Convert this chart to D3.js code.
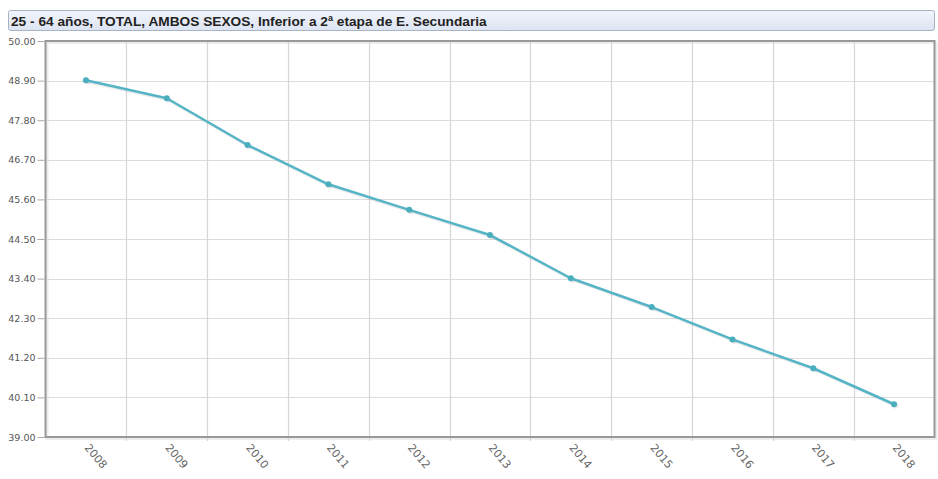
<!DOCTYPE html>
<html>
<head>
<meta charset="utf-8">
<script src="https://cdn.jsdelivr.net/npm/d3@7"></script>
<style>
  html, body { margin: 0; padding: 0; background: #fff; }
  svg { display: block; }
</style>
</head>
<body>
<svg id="chart" width="938" height="479"></svg>
<script>
const title = "25 - 64 años, TOTAL, AMBOS SEXOS, Inferior a 2ª etapa de E. Secundaria";
const years = ["2008","2009","2010","2011","2012","2013","2014","2015","2016","2017","2018"];
const values = [48.91, 48.41, 47.11, 46.02, 45.31, 44.61, 43.41, 42.61, 41.71, 40.91, 39.91];
const yTicks = [39.00, 40.10, 41.20, 42.30, 43.40, 44.50, 45.60, 46.70, 47.80, 48.90, 50.00];

const svg = d3.select("#chart");
const W = 938, H = 479;
const m = { left: 45.5, right: 3.5, top: 41, bottom: 42 };
const pw = W - m.left - m.right, ph = H - m.top - m.bottom;

const defs = svg.append("defs");
const grad = defs.append("linearGradient").attr("id", "tg").attr("x1", 0).attr("x2", 0).attr("y1", 0).attr("y2", 1);
grad.append("stop").attr("offset", "0%").attr("stop-color", "#f1f4fb");
grad.append("stop").attr("offset", "100%").attr("stop-color", "#dde4f2");

// Title bar
svg.append("rect").attr("x", 8.5).attr("y", 10.5).attr("width", 926).attr("height", 20)
  .attr("rx", 2).attr("fill", "url(#tg)").attr("stroke", "#a9b3c6");
svg.append("text").attr("x", 11).attr("y", 25.5)
  .attr("font-family", "Liberation Sans, Arial, sans-serif").attr("font-size", 13.7)
  .attr("font-weight", "bold").attr("fill", "#222").text(title);

const x = d3.scaleBand().domain(years).range([m.left, m.left + pw]).padding(0);
const y = d3.scaleLinear().domain([39, 50]).range([m.top + ph, m.top]);

const g = svg.append("g");

// plot frame shadow
g.append("rect").attr("x", m.left + 1.5).attr("y", m.top + 1.5).attr("width", pw).attr("height", ph)
  .attr("fill", "none").attr("stroke", "#000").attr("stroke-opacity", 0.07).attr("stroke-width", 3);

// horizontal gridlines
g.append("g").selectAll("line").data(yTicks).join("line")
  .attr("x1", m.left).attr("x2", m.left + pw)
  .attr("y1", d => Math.round(y(d)) + 0.5).attr("y2", d => Math.round(y(d)) + 0.5)
  .attr("stroke", "#dcdcdc").attr("stroke-width", 1);

// vertical gridlines at band boundaries
const bounds = years.slice(1).map(d => x(d));
g.append("g").selectAll("line").data(bounds).join("line")
  .attr("x1", d => Math.round(d) + 0.5).attr("x2", d => Math.round(d) + 0.5)
  .attr("y1", m.top).attr("y2", m.top + ph + 4)
  .attr("stroke", "#d6d6d6").attr("stroke-width", 1.2);

// frame
g.append("rect").attr("x", m.left).attr("y", m.top).attr("width", pw).attr("height", ph)
  .attr("fill", "none").attr("stroke", "#999").attr("stroke-width", 2);

// Y axis
const yAxis = d3.axisLeft(y).tickValues(yTicks).tickFormat(d3.format(".2f")).tickSize(7).tickPadding(2);
const ya = svg.append("g").attr("transform", `translate(${m.left - 1},0)`).call(yAxis);
ya.select(".domain").remove();
ya.selectAll(".tick line").attr("stroke", "#aaa");
ya.selectAll(".tick text").attr("font-family", "DejaVu Sans, Verdana, sans-serif").attr("font-size", 9.5).attr("fill", "#555");

// X axis labels
const xa = svg.append("g").attr("transform", `translate(0,${m.top + ph})`)
  .call(d3.axisBottom(x).tickSize(0).tickPadding(0));
xa.select(".domain").remove();
xa.selectAll(".tick text")
  .attr("font-family", "DejaVu Sans, Verdana, sans-serif").attr("font-size", 11).attr("fill", "#666")
  .attr("text-anchor", "start").attr("dy", null).attr("y", 0)
  .attr("transform", "translate(-2,11) rotate(50)");

// line
const line = d3.line().x((d, i) => x(years[i]) + x.bandwidth() / 2).y(d => y(d));
const sg = svg.append("g").attr("transform", "translate(1.5,1.5)");
sg.append("path").datum(values).attr("d", line).attr("fill", "none")
  .attr("stroke", "#000").attr("stroke-opacity", 0.08).attr("stroke-width", 3);
svg.append("path").datum(values).attr("d", line).attr("fill", "none")
  .attr("stroke", "#55b5c6").attr("stroke-width", 2.5).attr("stroke-linejoin", "round");

sg.selectAll("circle").data(values).join("circle")
  .attr("cx", (d, i) => x(years[i]) + x.bandwidth() / 2).attr("cy", d => y(d))
  .attr("r", 3).attr("fill", "#000").attr("fill-opacity", 0.08);
svg.append("g").selectAll("circle").data(values).join("circle")
  .attr("cx", (d, i) => x(years[i]) + x.bandwidth() / 2).attr("cy", d => y(d))
  .attr("r", 3).attr("fill", "#4aaebf");
</script>
</body>
</html>
